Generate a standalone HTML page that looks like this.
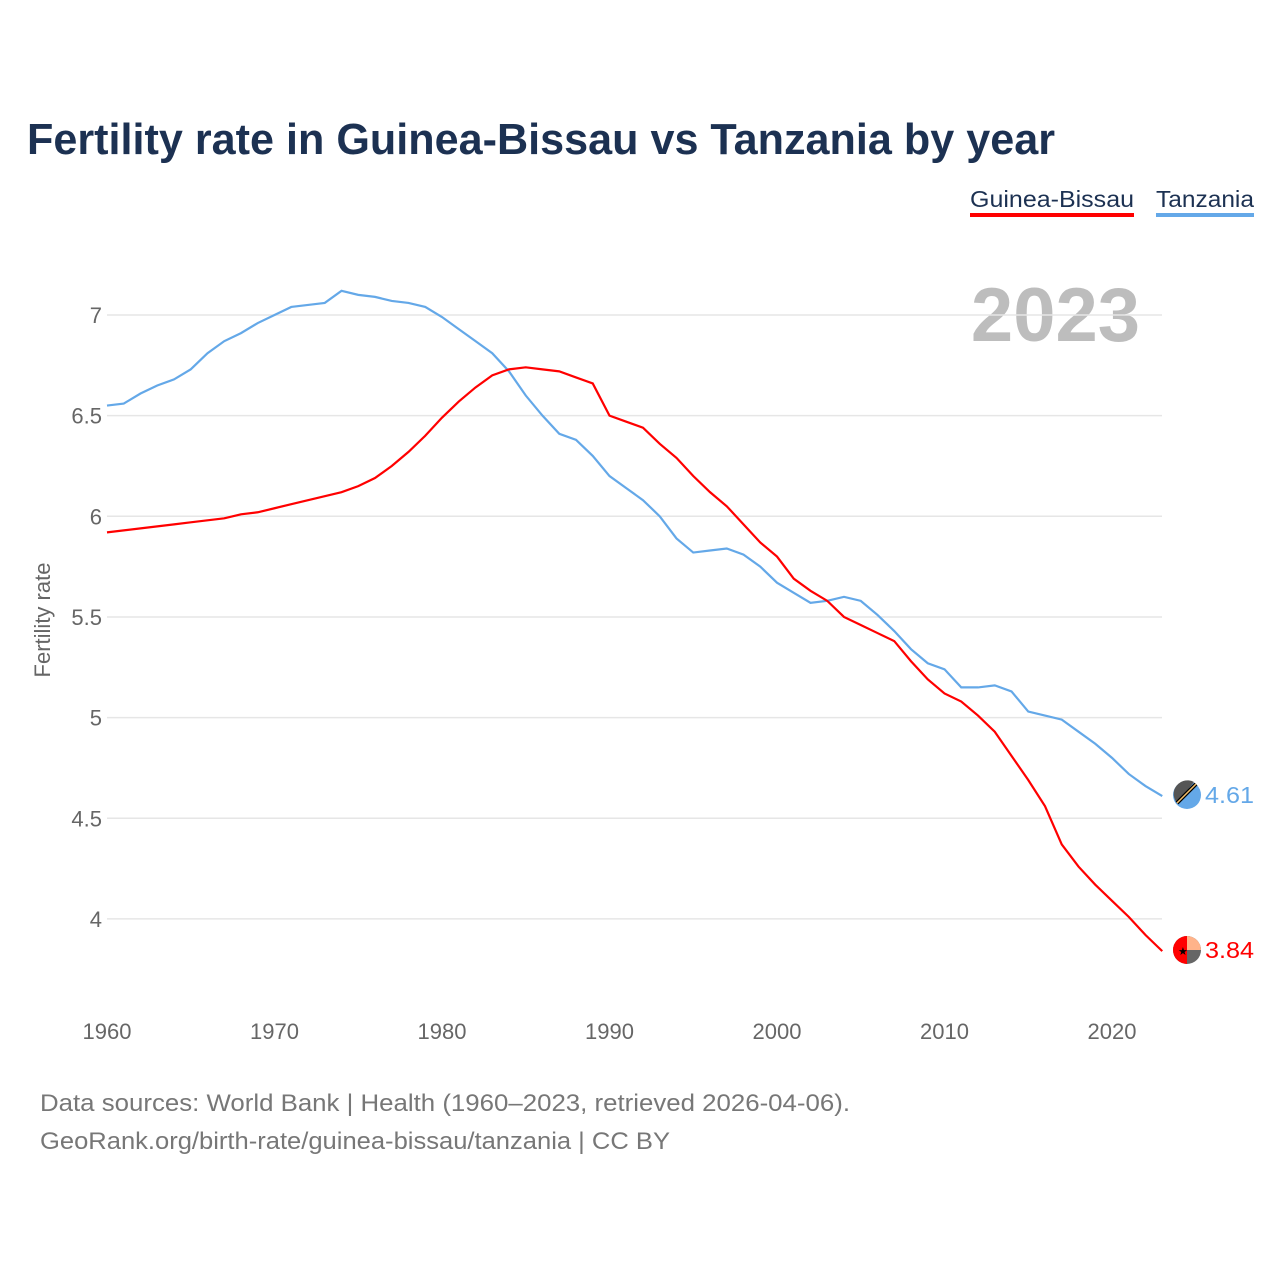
<!DOCTYPE html>
<html><head><meta charset="utf-8">
<style>
body{margin:0;background:#fff;width:1280px;height:1280px;overflow:hidden;font-family:"Liberation Sans",sans-serif}
svg text{font-family:"Liberation Sans",sans-serif}
</style></head>
<body>
<svg id="chart" width="1280" height="1280" xmlns="http://www.w3.org/2000/svg">
<text x="27" y="154" font-size="44" font-weight="bold" fill="#1c3152" textLength="1028" lengthAdjust="spacingAndGlyphs">Fertility rate in Guinea-Bissau vs Tanzania by year</text>
<g>
<text x="970" y="207" font-size="23" fill="#1c3152" textLength="164" lengthAdjust="spacingAndGlyphs">Guinea-Bissau</text>
<rect x="970" y="213" width="164" height="4" fill="#ff0000"/>
<text x="1156" y="207" font-size="23" fill="#1c3152" textLength="98" lengthAdjust="spacingAndGlyphs">Tanzania</text>
<rect x="1156" y="213" width="98" height="4" fill="#64a8e8"/>
</g>
<text x="1140" y="341" font-size="76" font-weight="bold" fill="#bdbdbd" text-anchor="end">2023</text>
<text transform="translate(50,620) rotate(-90)" font-size="22" fill="#666" text-anchor="middle">Fertility rate</text>
<g id="grid"></g>
<g id="xticks"></g>
<g id="lines"></g>
<g>
<circle cx="1187" cy="795" r="14" fill="#64a8e8"/>
<path d="M1175,788 A14,14 0 0 1 1194,782 L1177,803 A14,14 0 0 1 1175,788Z" fill="#555"/>
<line x1="1177" y1="803" x2="1196" y2="784" stroke="#000" stroke-width="4"/>
<line x1="1177" y1="803" x2="1196" y2="784" stroke="#f5c06b" stroke-width="1.5"/>
</g>
<g>
<circle cx="1187" cy="950" r="14" fill="#666"/>
<path d="M1187,936 A14,14 0 0 1 1201,950 L1187,950Z" fill="#ffb38a"/>
<path d="M1187,936 A14,14 0 0 0 1187,964Z" fill="#ff0000"/>
<text x="1178" y="955" font-size="11" fill="#000">★</text>
</g>
<text x="1205" y="803" font-size="23" fill="#64a8e8" textLength="49" lengthAdjust="spacingAndGlyphs">4.61</text>
<text x="1205" y="958" font-size="23" fill="#ff0000" textLength="49" lengthAdjust="spacingAndGlyphs">3.84</text>
<text x="40" y="1111" font-size="24" fill="#777" textLength="810" lengthAdjust="spacingAndGlyphs">Data sources: World Bank | Health (1960–2023, retrieved 2026-04-06).</text>
<text x="40" y="1149" font-size="24" fill="#777" textLength="630" lengthAdjust="spacingAndGlyphs">GeoRank.org/birth-rate/guinea-bissau/tanzania | CC BY</text>
</svg>
<script>
const years = [];
for (let y = 1960; y <= 2023; y++) years.push(y);
const tanzania = [6.55,6.56,6.61,6.65,6.68,6.73,6.81,6.87,6.91,6.96,7.00,7.04,7.05,7.06,7.12,7.10,7.09,7.07,7.06,7.04,6.99,6.93,6.87,6.81,6.72,6.60,6.50,6.41,6.38,6.30,6.20,6.14,6.08,6.00,5.89,5.82,5.83,5.84,5.81,5.75,5.67,5.62,5.57,5.58,5.60,5.58,5.51,5.43,5.34,5.27,5.24,5.15,5.15,5.16,5.13,5.03,5.01,4.99,4.93,4.87,4.80,4.72,4.66,4.61];
const guineaBissau = [5.92,5.93,5.94,5.95,5.96,5.97,5.98,5.99,6.01,6.02,6.04,6.06,6.08,6.10,6.12,6.15,6.19,6.25,6.32,6.40,6.49,6.57,6.64,6.70,6.73,6.74,6.73,6.72,6.69,6.66,6.50,6.47,6.44,6.36,6.29,6.20,6.12,6.05,5.96,5.87,5.80,5.69,5.63,5.58,5.50,5.46,5.42,5.38,5.28,5.19,5.12,5.08,5.01,4.93,4.81,4.69,4.56,4.37,4.26,4.17,4.09,4.01,3.92,3.84];
const yTicks = [4,4.5,5,5.5,6,6.5,7];
const yTickLabels = ["4","4.5","5","5.5","6","6.5","7"];
const xTicks = [1960,1970,1980,1990,2000,2010,2020];

const NS = "http://www.w3.org/2000/svg";
const xS = y => 107 + (y - 1960) * 16.75;
const yS = v => 315 + (7 - v) * 201.3;

const grid = document.getElementById('grid');
yTicks.forEach((t, i) => {
  const l = document.createElementNS(NS, 'line');
  l.setAttribute('x1', 107); l.setAttribute('x2', 1162);
  l.setAttribute('y1', yS(t)); l.setAttribute('y2', yS(t));
  l.setAttribute('stroke', '#e6e6e6'); l.setAttribute('stroke-width', '1.5');
  
  
  grid.appendChild(l);
  const tx = document.createElementNS(NS, 'text');
  tx.setAttribute('x', 102); tx.setAttribute('y', yS(t) + 8);
  tx.setAttribute('text-anchor', 'end'); tx.setAttribute('font-size', '22'); tx.setAttribute('fill', '#666');
  tx.textContent = yTickLabels[i];
  
  
  grid.appendChild(tx);
});
const xg = document.getElementById('xticks');
xTicks.forEach(t => {
  const tx = document.createElementNS(NS, 'text');
  tx.setAttribute('x', xS(t)); tx.setAttribute('y', 1039);
  tx.setAttribute('text-anchor', 'middle'); tx.setAttribute('font-size', '22'); tx.setAttribute('fill', '#666');
  tx.textContent = t;
  
  
  xg.appendChild(tx);
});
const lines = document.getElementById('lines');
function drawLine(vals, color, name) {
  const p = document.createElementNS(NS, 'polyline');
  p.setAttribute('points', vals.map((v, i) => xS(years[i]) + ',' + yS(v)).join(' '));
  p.setAttribute('fill', 'none'); p.setAttribute('stroke', color); p.setAttribute('stroke-width', '2.2');
  
  
  lines.appendChild(p);
}
drawLine(tanzania, '#64a8e8', 'line-tanzania');
drawLine(guineaBissau, '#ff0000', 'line-guinea-bissau');
</script>
</body></html>
